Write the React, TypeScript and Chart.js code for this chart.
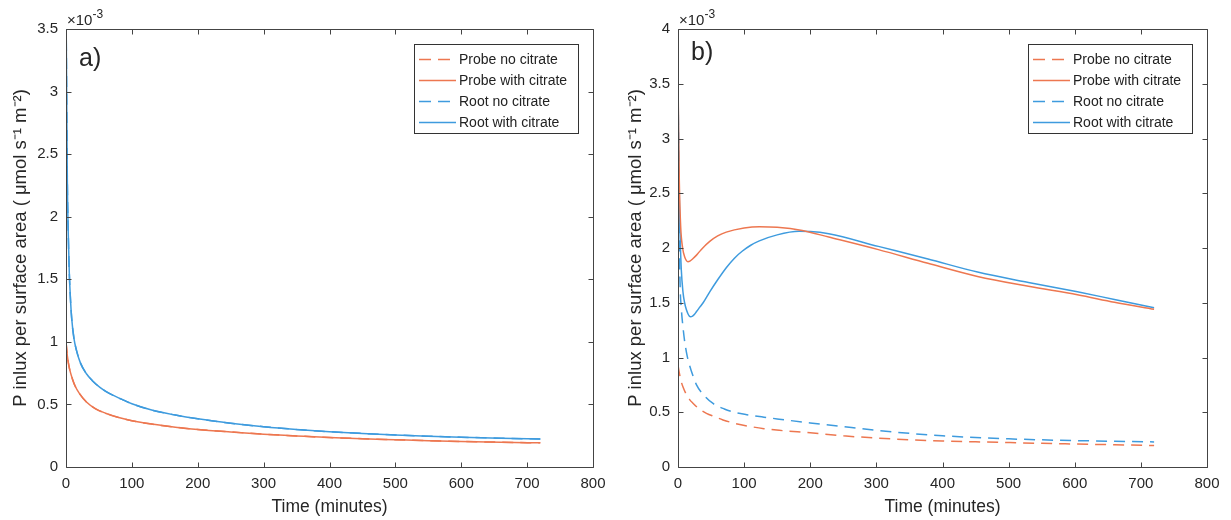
import React, { useEffect, useRef } from 'react';
import { Chart, registerables } from 'chart.js';
Chart.register(...registerables);

// ---------- Data (values in units of 1e-3 µmol s^-1 m^-2) ----------
const seriesLabels = ['Probe no citrate', 'Probe with citrate', 'Root no citrate', 'Root with citrate'];

// Panel a)
const timeProbeA = [0, 2, 4, 6, 10, 14, 20, 31, 45, 60, 80, 100, 130, 166, 200, 250, 300, 350, 400, 450, 500, 550, 600, 660, 720];
const probeNoCitrateA = [1.0, 0.89, 0.82, 0.77, 0.70, 0.645, 0.59, 0.52, 0.465, 0.43, 0.395, 0.37, 0.343, 0.318, 0.30, 0.28, 0.262, 0.248, 0.235, 0.226, 0.218, 0.21, 0.204, 0.198, 0.193];
const probeWithCitrateA = [1.0, 0.89, 0.82, 0.77, 0.70, 0.645, 0.59, 0.52, 0.465, 0.43, 0.395, 0.37, 0.343, 0.318, 0.30, 0.28, 0.262, 0.248, 0.235, 0.226, 0.218, 0.21, 0.204, 0.198, 0.193];
const timeRootA = [0, 1, 2, 3.5, 5, 7, 8.6, 12, 16, 22, 31, 40, 52, 65, 85, 100, 130, 166, 200, 250, 300, 350, 400, 450, 500, 550, 600, 660, 720];
const rootNoCitrateA = [3.7, 3.0, 2.3, 1.85, 1.55, 1.32, 1.19, 1.03, 0.93, 0.83, 0.745, 0.69, 0.635, 0.59, 0.54, 0.505, 0.455, 0.415, 0.385, 0.35, 0.322, 0.30, 0.282, 0.268, 0.256, 0.246, 0.238, 0.23, 0.223];
const rootWithCitrateA = [3.7, 3.0, 2.3, 1.85, 1.55, 1.32, 1.19, 1.03, 0.93, 0.83, 0.745, 0.69, 0.635, 0.59, 0.54, 0.505, 0.455, 0.415, 0.385, 0.35, 0.322, 0.30, 0.282, 0.268, 0.256, 0.246, 0.238, 0.23, 0.223];

// Panel b)
const timeProbeNoB = [0, 2, 4, 7.6, 12, 17, 23, 32, 43, 55, 68, 85, 109, 130, 153, 200, 250, 300, 350, 400, 450, 500, 550, 600, 660, 720];
const probeNoCitrateB = [0.93, 0.86, 0.80, 0.73, 0.67, 0.62, 0.58, 0.53, 0.49, 0.46, 0.43, 0.40, 0.37, 0.35, 0.335, 0.312, 0.285, 0.264, 0.249, 0.238, 0.23, 0.223, 0.216, 0.21, 0.203, 0.196];
const timeProbeWithB = [0, 1, 2, 4, 7, 10, 15, 18, 22, 28, 35, 48, 60, 73, 100, 123, 150, 188, 228, 303, 378, 453, 530, 604, 660, 720];
const probeWithCitrateB = [3.57, 3.0, 2.6, 2.2, 2.0, 1.92, 1.875, 1.88, 1.9, 1.935, 1.985, 2.06, 2.11, 2.145, 2.183, 2.195, 2.19, 2.16, 2.10, 1.985, 1.86, 1.74, 1.65, 1.573, 1.505, 1.44];
const timeRootNoB = [0, 1, 2, 3, 5, 7.5, 10, 13, 16, 20, 28, 40, 53, 70, 85, 104, 130, 153, 200, 250, 300, 350, 400, 450, 500, 550, 600, 660, 720];
const rootNoCitrateB = [3.55, 2.8, 2.15, 1.7, 1.45, 1.28, 1.15, 1.04, 0.96, 0.88, 0.75, 0.65, 0.58, 0.53, 0.5, 0.478, 0.455, 0.437, 0.402, 0.368, 0.335, 0.307, 0.285, 0.269, 0.257, 0.248, 0.241, 0.235, 0.229];
const timeRootWithB = [0, 1, 2, 3, 5, 7.5, 10, 12.5, 15, 17, 19, 22, 25, 28, 33, 38, 48, 60, 73, 85, 97, 110, 123, 150, 183, 200, 228, 303, 378, 453, 530, 604, 660, 720];
const rootWithCitrateB = [3.55, 2.9, 2.45, 2.15, 1.8, 1.6, 1.5, 1.44, 1.4, 1.38, 1.372, 1.378, 1.395, 1.42, 1.46, 1.50, 1.60, 1.71, 1.82, 1.905, 1.97, 2.025, 2.065, 2.12, 2.152, 2.15, 2.13, 2.015, 1.9, 1.78, 1.685, 1.6, 1.53, 1.455];

const xMax = 800;
const xStep = 100;
const yMaxA = 3.5;
const yMaxB = 4;
const yStep = 0.5;

// ---------- Styles ----------
const ORANGE = 'rgb(237,119,80)';
const BLUE = 'rgb(62,155,222)';
const FONT = "'Liberation Sans', Arial, Helvetica, sans-serif";
const TEXT = '#262626';
const AXIS = '#444444';
const DASH = [11, 7];
const LEGEND_DASH = [12, 7];

const pts = (t: number[], v: number[]) => t.map((x, i) => ({ x, y: v[i] }));

const decorPlugin = (panelLabel: string, labelY: number, legendBox: { x: number; y: number; w: number; h: number }) => ({
  id: 'matlabDecor' + panelLabel,
  afterDraw(chart: any) {
    const { ctx, chartArea } = chart;
    const { left, right, top, bottom } = chartArea;
    const xs = chart.scales.x;
    const ys = chart.scales.y;
    ctx.save();
    // Box
    const L = Math.round(left) + 0.5, R = Math.round(right) + 0.5, T = Math.round(top) + 0.5, B = Math.round(bottom) + 0.5;
    ctx.strokeStyle = AXIS;
    ctx.lineWidth = 1;
    ctx.setLineDash([]);
    ctx.beginPath();
    ctx.moveTo(L, T); ctx.lineTo(R, T); ctx.lineTo(R, B); ctx.lineTo(L, B); ctx.closePath();
    ctx.stroke();
    // Inward ticks
    const tl = 5;
    ctx.beginPath();
    xs.ticks.forEach((tk: any) => {
      const px = Math.round(xs.getPixelForValue(tk.value)) + 0.5;
      ctx.moveTo(px, B); ctx.lineTo(px, B - tl);
      ctx.moveTo(px, T); ctx.lineTo(px, T + tl);
    });
    ys.ticks.forEach((tk: any) => {
      const py = Math.round(ys.getPixelForValue(tk.value)) + 0.5;
      ctx.moveTo(L, py); ctx.lineTo(L + tl, py);
      ctx.moveTo(R, py); ctx.lineTo(R - tl, py);
    });
    ctx.stroke();
    // Exponent label
    ctx.fillStyle = TEXT;
    ctx.textBaseline = 'alphabetic';
    ctx.textAlign = 'left';
    ctx.font = `15px ${FONT}`;
    ctx.fillText('\u00d710', left + 1, top - 4);
    const w = ctx.measureText('\u00d710').width;
    ctx.font = `12px ${FONT}`;
    ctx.fillText('-3', left + 1 + w, top - 11);
    // Panel label
    ctx.font = `25px ${FONT}`;
    ctx.textBaseline = 'middle';
    ctx.fillText(panelLabel, left + 13, labelY);
    // Legend
    const { x, y, w: bw, h: bh } = legendBox;
    ctx.fillStyle = '#ffffff';
    ctx.fillRect(x, y, bw, bh);
    ctx.strokeStyle = '#333333';
    ctx.lineWidth = 1;
    ctx.strokeRect(x + 0.5, y + 0.5, bw, bh);
    ctx.font = `14px ${FONT}`;
    chart.data.datasets.forEach((ds: any, i: number) => {
      const ry = y + 15 + i * 21;
      const dashed = ds.borderDash && ds.borderDash.length > 0;
      ctx.strokeStyle = ds.borderColor;
      ctx.lineWidth = 1.5;
      ctx.setLineDash(dashed ? LEGEND_DASH : []);
      ctx.beginPath();
      ctx.moveTo(x + 5, ry + 0.5);
      ctx.lineTo(x + (dashed ? 36 : 42), ry + 0.5);
      ctx.stroke();
      ctx.setLineDash([]);
      ctx.fillStyle = '#222222';
      ctx.textBaseline = 'middle';
      ctx.fillText(ds.label, x + 45, ry + 1);
    });
    ctx.restore();
  },
});

function makeConfig(
  data: { t: number[]; v: number[] }[],
  yMax: number,
  yAxisWidth: number,
  padRight: number,
  panelLabel: string,
  labelY: number,
  legendBox: { x: number; y: number; w: number; h: number }
): any {
  const colors = [ORANGE, ORANGE, BLUE, BLUE];
  const dashed = [true, false, true, false];
  return {
    type: 'line',
    data: {
      datasets: data.map((d, i) => ({
        label: seriesLabels[i],
        data: pts(d.t, d.v),
        borderColor: colors[i],
        backgroundColor: colors[i],
        borderWidth: 1.5,
        borderDash: dashed[i] ? DASH : [],
        pointRadius: 0,
        fill: false,
        cubicInterpolationMode: 'monotone',
      })),
    },
    options: {
      animation: false,
      responsive: false,
      maintainAspectRatio: false,
      layout: { padding: { top: 29, right: padRight, left: 0, bottom: 0 } },
      plugins: { legend: { display: false }, tooltip: { enabled: false }, title: { display: false } },
      scales: {
        x: {
          type: 'linear',
          min: 0,
          max: xMax,
          afterFit: (s: any) => { s.height = 53; },
          grid: { display: false, drawTicks: false },
          border: { display: false },
          ticks: { stepSize: xStep, color: TEXT, font: { family: FONT, size: 15 }, padding: 8, maxRotation: 0, callback: (v: any) => String(v) },
          title: { display: true, text: 'Time (minutes)', color: TEXT, font: { family: FONT, size: 17.5 }, padding: { top: 0, bottom: 2 } },
        },
        y: {
          type: 'linear',
          min: 0,
          max: yMax,
          afterFit: (s: any) => { s.width = yAxisWidth; },
          grid: { display: false, drawTicks: false },
          border: { display: false },
          ticks: { stepSize: yStep, color: TEXT, font: { family: FONT, size: 15 }, padding: 8, callback: (v: any) => String(v) },
          title: { display: true, text: 'P inlux per surface area ( \u03bcmol s\u207b\u00b9 m\u207b\u00b2)', color: TEXT, font: { family: FONT, size: 18.5 }, padding: { top: 10, bottom: 0 } },
        },
      },
    },
    plugins: [decorPlugin(panelLabel, labelY, legendBox)],
  };
}

export default function App() {
  const refA = useRef<HTMLCanvasElement | null>(null);
  const refB = useRef<HTMLCanvasElement | null>(null);

  useEffect(() => {
    const cA = new Chart(
      refA.current as HTMLCanvasElement,
      makeConfig(
        [
          { t: timeProbeA, v: probeNoCitrateA },
          { t: timeProbeA, v: probeWithCitrateA },
          { t: timeRootA, v: rootNoCitrateA },
          { t: timeRootA, v: rootWithCitrateA },
        ],
        yMaxA, 66, 22, 'a)', 59, { x: 414, y: 44, w: 164, h: 89 }
      )
    );
    const cB = new Chart(
      refB.current as HTMLCanvasElement,
      makeConfig(
        [
          { t: timeProbeNoB, v: probeNoCitrateB },
          { t: timeProbeWithB, v: probeWithCitrateB },
          { t: timeRootNoB, v: rootNoCitrateB },
          { t: timeRootWithB, v: rootWithCitrateB },
        ],
        yMaxB, 63, 24, 'b)', 53, { x: 413, y: 44, w: 164, h: 89 }
      )
    );
    return () => { cA.destroy(); cB.destroy(); };
  }, []);

  return (
    <div style={{ position: 'fixed', left: 0, top: 0, width: 1231, height: 520, background: '#ffffff' }}>
      <canvas ref={refA} width={615} height={520} style={{ position: 'absolute', left: 0, top: 0, width: 615, height: 520 }} />
      <canvas ref={refB} width={616} height={520} style={{ position: 'absolute', left: 615, top: 0, width: 616, height: 520 }} />
    </div>
  );
}
